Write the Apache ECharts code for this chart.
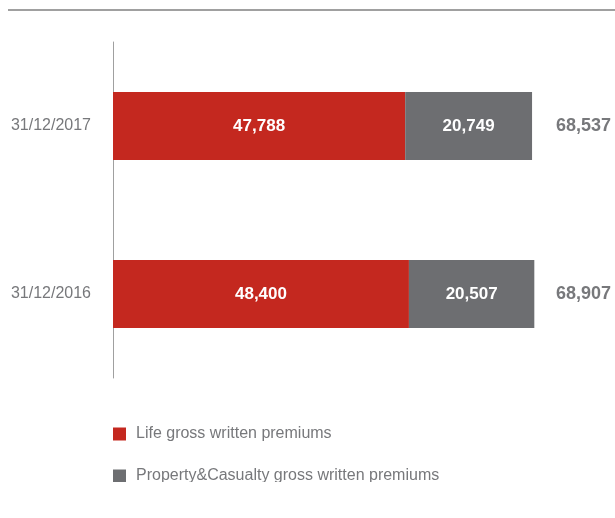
<!DOCTYPE html>
<html>
<head>
<meta charset="utf-8">
<script src="https://cdn.jsdelivr.net/npm/echarts@6/dist/echarts.min.js"></script>
<style>
html,body{margin:0;padding:0;background:#fff;}
#wrap{width:615px;height:518px;overflow:hidden;position:relative;background:#fff;}
#chart{width:615px;height:482px;}
</style>
</head>
<body>
<div id="wrap"><div id="chart"></div></div>
<script>
const categories = ['31/12/2017', '31/12/2016'];
const lifePremiums = [47788, 48400];
const pcPremiums = [20749, 20507];
const totals = [68537, 68907];
const seriesNames = ['Life gross written premiums', 'Property&Casualty gross written premiums'];

const fmt = v => v.toLocaleString('en-US');
const FONT = '"Liberation Sans", Arial, Helvetica, sans-serif';
const GREY_TEXT = '#77787b';

const legendCommon = {
  orient: 'vertical',
  left: 113,
  padding: 0,
  itemWidth: 13, itemHeight: 13,
  icon: 'rect',
  textStyle: {fontFamily: FONT, fontSize: 16, color: GREY_TEXT, padding: [0, 0, 0, 5]}
};

const chart = echarts.init(document.getElementById('chart'), null, {renderer: 'canvas'});
chart.setOption({
  animation: false,
  backgroundColor: '#fff',
  graphic: [{
    type: 'line',
    shape: {x1: 8, y1: 10, x2: 615, y2: 10},
    style: {stroke: '#a0a0a0', lineWidth: 2}
  }],
  grid: {left: 113, top: 42, width: 428, height: 336, containLabel: false},
  legend: [
    Object.assign({}, legendCommon, {top: 426, data: [seriesNames[0]]}),
    Object.assign({}, legendCommon, {top: 468, data: [seriesNames[1]]})
  ],
  xAxis: {
    type: 'value', min: 0, max: 70000,
    show: false
  },
  yAxis: [{
    type: 'category', data: categories, inverse: true,
    axisLine: {show: true, lineStyle: {color: '#a0a0a0', width: 1}},
    axisTick: {show: false},
    axisLabel: {fontFamily: FONT, fontSize: 16, color: GREY_TEXT, margin: 22}
  }, {
    type: 'category', data: totals.map(fmt), inverse: true, position: 'right',
    axisLine: {show: false}, axisTick: {show: false},
    axisLabel: {fontFamily: FONT, fontSize: 18, fontWeight: 'bold', color: GREY_TEXT, margin: 15, align: 'left'}
  }],
  series: [{
    name: seriesNames[0], type: 'bar', stack: 'a', barWidth: 68,
    data: lifePremiums, itemStyle: {color: '#c4281f'},
    label: {show: true, position: 'inside', formatter: p => fmt(p.value), color: '#fff', fontFamily: FONT, fontWeight: 'bold', fontSize: 17}
  }, {
    name: seriesNames[1], type: 'bar', stack: 'a', barWidth: 68,
    data: pcPremiums, itemStyle: {color: '#6d6e71'},
    label: {show: true, position: 'inside', formatter: p => fmt(p.value), color: '#fff', fontFamily: FONT, fontWeight: 'bold', fontSize: 17}
  }]
});
</script>
</body>
</html>
